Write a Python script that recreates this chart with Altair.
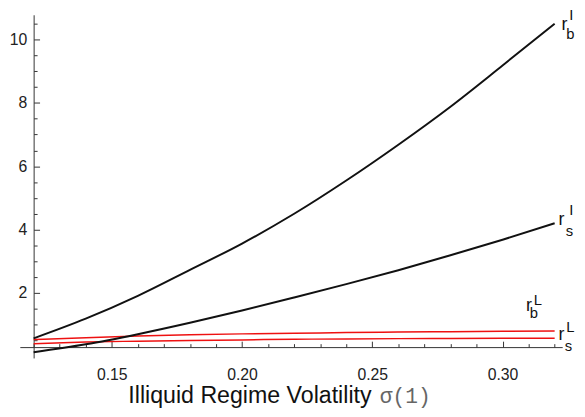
import altair as alt
import pandas as pd

# ---- data ----
sigma = [0.12, 0.14, 0.16, 0.18, 0.20, 0.22, 0.24, 0.26, 0.28, 0.30, 0.32]
r_b_I = [0.57, 1.19, 1.91, 2.73, 3.56, 4.50, 5.55, 6.68, 7.88, 9.18, 10.50]
r_s_I = [0.13, 0.38, 0.70, 1.06, 1.45, 1.86, 2.28, 2.72, 3.19, 3.68, 4.20]
r_b_L = [0.53, 0.59, 0.64, 0.68, 0.71, 0.73, 0.75, 0.77, 0.78, 0.79, 0.80]
r_s_L = [0.40, 0.45, 0.48, 0.50, 0.52, 0.54, 0.55, 0.56, 0.565, 0.57, 0.575]

y_label_values = [2, 4, 6, 8, 10]
y_tick_values = [0.5 * k for k in range(1, 22)]
x_label_values = [0.15, 0.20, 0.25, 0.30]
x_tick_values = [round(0.12 + 0.01 * k, 2) for k in range(0, 21)]

title_main = "Illiquid Regime Volatility"
title_sym = "σ(1)"

FONT = "Liberation Sans"
X_DOMAIN = [0.1147, 0.3229]
Y_DOMAIN = [-0.05, 10.78]

black_df = pd.concat([
    pd.DataFrame({"sigma": sigma, "r": r_b_I, "series": "rbI"}),
    pd.DataFrame({"sigma": sigma, "r": r_s_I, "series": "rsI"}),
])
red_df = pd.concat([
    pd.DataFrame({"sigma": sigma, "r": r_b_L, "series": "rbL"}),
    pd.DataFrame({"sigma": sigma, "r": r_s_L, "series": "rsL"}),
])

xs = alt.Scale(domain=X_DOMAIN, nice=False, zero=False)
ys = alt.Scale(domain=Y_DOMAIN, nice=False, zero=False)

# axes: labels-only axes (left/bottom) and ticks-only axes (right/top, moved onto the data)
x_label_axis = alt.Axis(orient="bottom", offset=-11, domain=False, ticks=False, grid=False,
                        values=x_label_values, format=".2f", labelFont=FONT, labelFontSize=16,
                        labelColor="#222", labelPadding=20, title="")
y_label_axis = alt.Axis(orient="left", offset=-14, domain=False, ticks=False, grid=False,
                        values=y_label_values, labelFont=FONT, labelFontSize=16,
                        labelColor="#222", labelPadding=7, title="")
x_tick_axis = alt.Axis(orient="top", offset=-337, domain=True, domainColor="#333",
                       ticks=True, tickColor="#333", grid=False, labels=False,
                       values=x_tick_values,
                       tickSize={"condition": {"test": "abs(round(datum.value*100)) % 5 === 0", "value": 6},
                                 "value": 3.5},
                       title="")
y_tick_axis = alt.Axis(orient="right", offset=-536, domain=True, domainColor="#333",
                       ticks=True, tickColor="#333", grid=False, labels=False,
                       values=y_tick_values,
                       tickSize={"condition": {"test": "abs(round(datum.value*2)) % 4 === 0", "value": 6},
                                 "value": 3.5},
                       title="")

red = alt.Chart(red_df).mark_line(color="#ee1111", strokeWidth=1.5, interpolate="monotone").encode(
    x=alt.X("sigma:Q", scale=xs, axis=x_tick_axis),
    y=alt.Y("r:Q", scale=ys, axis=y_tick_axis),
    detail="series:N",
)
black = alt.Chart(black_df).mark_line(color="#111111", strokeWidth=2, interpolate="monotone").encode(
    x=alt.X("sigma:Q", scale=xs, axis=x_label_axis),
    y=alt.Y("r:Q", scale=ys, axis=y_label_axis),
    detail="series:N",
)

# curve labels (r with super/subscripts), anchored at each curve's last point
labels_spec = [
    # (y_end, sup, sub, (r_dx, r_dy), (sup_dx, sup_dy), (sub_dx, sub_dy))
    (r_b_I[-1], "I", "b", (10, 6), (17, -4), (16, 16)),
    (r_s_I[-1], "I", "s", (7, 2), (17, -8), (15, 13)),
    (r_b_L[-1], "L", "b", (-26, -20), (-17, -26), (-21, -13)),
    (r_s_L[-1], "L", "s", (7, 2), (16, -6), (14, 13)),
]

label_layers = []
for y_end, sup, sub, rpos, suppos, subpos in labels_spec:
    d = pd.DataFrame({"sigma": [sigma[-1]], "r": [y_end]})
    for txt, (dx, dy), size in (("r", rpos, 18), (sup, suppos, 15), (sub, subpos, 15)):
        label_layers.append(
            alt.Chart(d).mark_text(text=txt, dx=dx, dy=dy, align="center", baseline="alphabetic",
                                   font=FONT, fontSize=size, color="#111").encode(
                x=alt.X("sigma:Q", scale=xs, axis=None),
                y=alt.Y("r:Q", scale=ys, axis=None),
            )
        )

title_df = pd.DataFrame({"t": [0]})
title1 = alt.Chart(title_df).mark_text(text=title_main, align="left", baseline="alphabetic",
                                       font=FONT, fontSize=23.5, color="#111").encode(
    x=alt.value(110), y=alt.value(394))
title2 = alt.Chart(title_df).mark_text(text=title_sym, align="left", baseline="alphabetic",
                                       font="Liberation Mono", fontSize=21.5, color="#666").encode(
    x=alt.value(365), y=alt.value(394))

chart = alt.layer(red, black, *label_layers, title1, title2).resolve_axis(
    x="independent", y="independent"
).properties(
    width=550, height=348,
    autosize=alt.AutoSizeParams(type="none"),
    padding={"left": 12, "top": 4, "right": 15, "bottom": 57},
).configure_view(stroke=None)

chart.save("out.html", embed_options={"renderer": "svg", "actions": False})
